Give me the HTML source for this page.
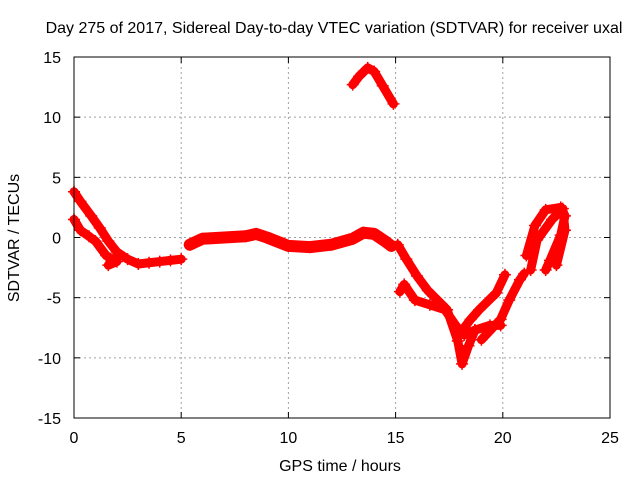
<!DOCTYPE html>
<html><head><meta charset="utf-8"><style>
body{margin:0;background:#fff;}
svg text{font-family:"Liberation Sans",sans-serif;font-size:16px;fill:#000;}
</style></head><body>
<svg id="chart" width="640" height="480">
<text x="334" y="33" text-anchor="middle">Day 275 of 2017, Sidereal Day-to-day VTEC variation (SDTVAR) for receiver uxal</text>
<text x="340" y="471" text-anchor="middle">GPS time / hours</text>
<text transform="translate(19,238) rotate(-90)" text-anchor="middle">SDTVAR / TECUs</text>
<g id="grid"></g><g id="marks"></g>
<rect x="74" y="57" width="536" height="361" fill="none" stroke="#000"/>
</svg>
<script>
const xTicks=[0,5,10,15,20,25];
const yTicks=[-15,-10,-5,0,5,10,15];
const trackA=[[0,3.8],[0.3,3],[0.8,1.8],[1.2,0.8],[1.6,-0.3],[2,-1.2],[2.5,-1.8],[3,-2.2],[3.5,-2.1],[4,-2],[4.5,-1.9],[5,-1.8]];
const trackB=[[0,1.5],[0.3,0.6],[0.7,0.1],[1,-0.3],[1.5,-1.5],[2,-2],[1.6,-2.3]];
const trackC=[[5.4,-0.6],[6,-0.1],[7,0],[8,0.1],[8.5,0.3],[9,0],[10,-0.7],[11,-0.8],[12,-0.6],[13,-0.1],[13.5,0.4],[14,0.3],[14.5,-0.3],[14.8,-0.7]];
const trackD=[[13,12.7],[13.3,13.4],[13.7,14.1],[14,13.8],[14.4,12.6],[14.9,11.1]];
const trackE=[[15.1,-0.6],[15.5,-1.8],[16,-3.2],[16.5,-4.4],[17.4,-6],[17.9,-8.6],[18.1,-10.5],[18.4,-9],[18.7,-7.7]];
const trackF=[[15.2,-4.5],[15.4,-3.9],[15.9,-5.2],[16.6,-5.6],[17.3,-6],[17.8,-7.3],[18.2,-8.1],[18.7,-7.7],[19.4,-7.3],[19.9,-7.3]];
const trackG=[[18.2,-7.5],[18.5,-6.8],[18.9,-6],[19.7,-4.6],[20.1,-3.1]];
const trackH=[[19,-8.5],[19.9,-6.8],[20.3,-5.2],[20.8,-3.5],[21,-3]];
const trackI=[[21.1,-1.5],[21.5,1],[22,2.3],[22.7,2.5],[22.9,1.8],[22.7,0.2],[22.2,-1.9],[22,-2.7]];
const trackJ=[[21.3,-2.7],[21.6,-0.2],[22.3,1.5],[22.8,2.4],[22.9,0.6],[22.5,-2.3]];
const tracks=[trackA,trackB,trackC,trackD,trackE,trackF,trackG,trackH,trackI,trackJ];
const widths=[9,9,12,9,9,9,9,9,9,9];
const X0=74,X1=610,Y0=418,Y1=57;
const sx=t=>X0+(t-0)/(25-0)*(X1-X0);
const sy=v=>Y0-(v+15)/30*(Y0-Y1);
const NS="http://www.w3.org/2000/svg";
const grid=document.getElementById('grid'),marks=document.getElementById('marks');
function mk(tag,attrs,parent){const e=document.createElementNS(NS,tag);for(const k in attrs)e.setAttribute(k,attrs[k]);parent.appendChild(e);return e;}
xTicks.forEach(t=>{const x=sx(t);
 if(t>0&&t<25){const l=mk('line',{x1:x,x2:x,y1:Y1,y2:Y0,stroke:'#a0a0a0','stroke-dasharray':'2,3'},grid);
 
 }
 mk('line',{x1:x,x2:x,y1:Y0,y2:Y0-6,stroke:'#000'},grid);mk('line',{x1:x,x2:x,y1:Y1,y2:Y1+6,stroke:'#000'},grid);
 const tx=mk('text',{x:x,y:443,'text-anchor':'middle'},grid);tx.textContent=t;
 
 });
yTicks.forEach(v=>{const y=sy(v);
 if(v>-15&&v<15){const l=mk('line',{x1:X0,x2:X1,y1:y,y2:y,stroke:'#a0a0a0','stroke-dasharray':'2,3'},grid);
 
 }
 mk('line',{x1:X0,x2:X0+6,y1:y,y2:y,stroke:'#000'},grid);mk('line',{x1:X1,x2:X1-6,y1:y,y2:y,stroke:'#000'},grid);
 const tx=mk('text',{x:61,y:y+6,'text-anchor':'end'},grid);tx.textContent=v;
 
 });
tracks.forEach((tr,i)=>{
 const pl=mk('polyline',{points:tr.map(p=>sx(p[0])+','+sy(p[1])).join(' '),fill:'none',stroke:'#ff0000','stroke-width':widths[i],'stroke-linejoin':'round','stroke-linecap':'round'},marks);
 
 
 tr.forEach(p=>{const x=sx(p[0]),y=sy(p[1]);
  const m=mk('path',{d:`M${x-6},${y}h12M${x},${y-6}v12`,stroke:'#ff0000','stroke-width':1.5},marks);
  
  });
});
</script>
</body></html>
